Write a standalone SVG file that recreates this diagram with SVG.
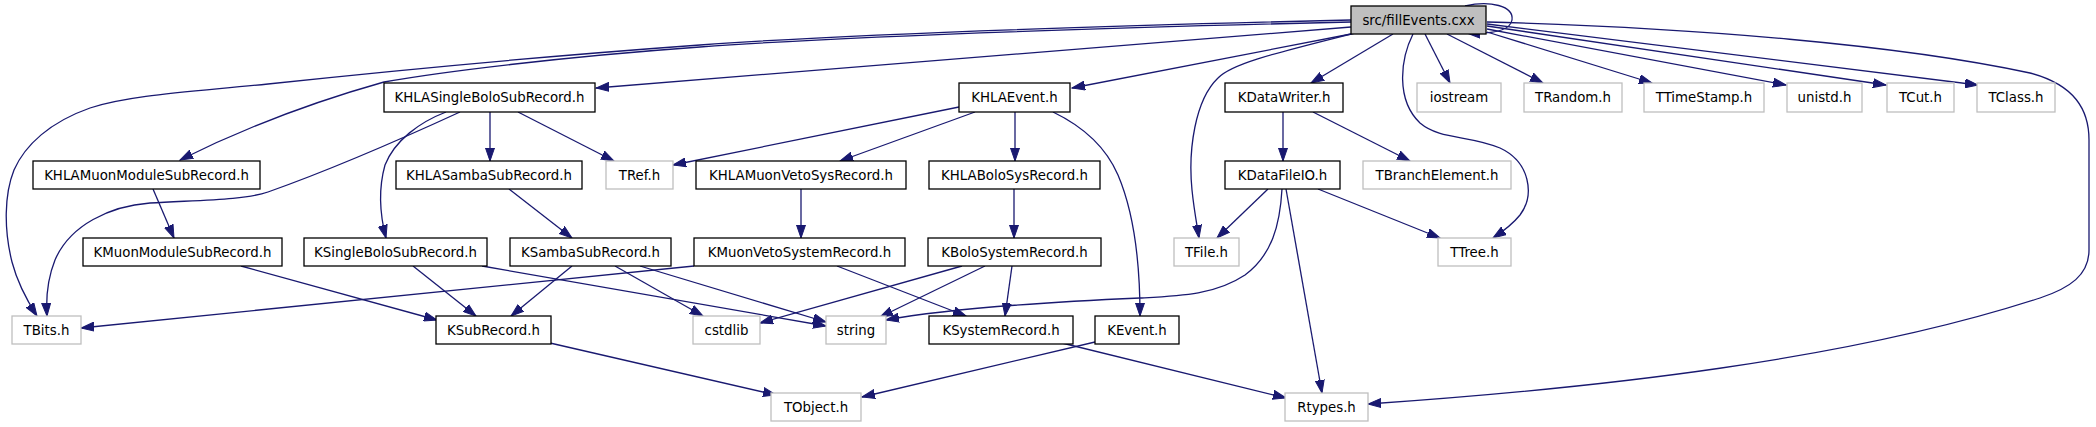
<svg xmlns="http://www.w3.org/2000/svg" width="2096" height="427" viewBox="0 0 2096 427">
<defs>
<marker id="ah" markerUnits="userSpaceOnUse" markerWidth="14" markerHeight="10" viewBox="0 0 14 10" refX="13" refY="5" orient="auto">
<path d="M0,0.5 L13,5 L0,9.5 z" fill="#191970" stroke="#191970" stroke-width="1"/>
</marker>
<style>
.n rect{fill:#ffffff;stroke:#000000;stroke-width:1.3}
.g rect{fill:#ffffff;stroke:#bfbfbf;stroke-width:1.3}
.s rect{fill:#bfbfbf;stroke:#000000;stroke-width:1.3}
text{font-family:"DejaVu Sans","Liberation Sans",sans-serif;font-size:13.33px;fill:#000000;text-anchor:middle}
#edges path{fill:none;stroke:#191970;stroke-width:1.3;marker-end:url(#ah)}
</style>
</defs>
<rect x="0" y="0" width="2096" height="427" fill="#ffffff"/>
<g id="edges">
<path d="M1351,27 L596,88"/>
<path d="M1351,22 C1100,28 850,36 700,47 C560,57 440,72 384,82 C320,100 250,125 180,160"/>
<path d="M1351,20 C1100,26 850,34 700,45 C520,58 380,72 268,84 C190,92 130,95 90,108 C50,122 25,145 14,170 C4,195 4,230 12,262 C18,285 28,302 37,316"/>
<path d="M1351,34 L1072,88"/>
<path d="M1355,33 C1280,52 1232,63 1218,78 C1195,100 1188,150 1192,190 C1194,210 1197,225 1199,238"/>
<path d="M1393,34 L1311,83"/>
<path d="M1425,34 L1450,83"/>
<path d="M1413,34 C1400,60 1396,100 1420,123 C1440,140 1470,135 1500,148 C1530,162 1535,195 1520,215 C1512,225 1502,232 1493,238"/>
<path d="M1447,34 L1543,83"/>
<path d="M1487,32 L1652,83"/>
<path d="M1487,29 L1786,85"/>
<path d="M1487,26 L1886,85"/>
<path d="M1487,24 L1978,85"/>
<path d="M1487,22 C1700,28 1900,45 2030,73 C2075,85 2089,110 2089,140 L2089,250 C2089,275 2070,288 2040,298 C1850,360 1600,388 1368,404"/>
<path d="M1465,6 C1490,0 1514,6 1512,20 C1510,32 1490,34 1467,33"/>
<path d="M490,112 L490,161"/>
<path d="M518,112 L614,161"/>
<path d="M460,112 C410,135 330,170 268,192 C245,200 200,200 150,203 C110,206 70,225 55,260 C47,280 46,300 47,316"/>
<path d="M446,112 C420,122 395,140 385,165 C378,190 380,215 386,238"/>
<path d="M153,189 L174,238"/>
<path d="M509,189 L572,238"/>
<path d="M959,107 L673,165"/>
<path d="M975,112 L840,161"/>
<path d="M1015,112 L1015,161"/>
<path d="M1053,112 C1080,125 1105,145 1118,175 C1135,215 1140,270 1140,316"/>
<path d="M801,189 L801,238"/>
<path d="M1014,189 L1014,238"/>
<path d="M1283,112 L1283,161"/>
<path d="M1313,112 L1410,161"/>
<path d="M1268,189 L1217,238"/>
<path d="M1318,189 L1440,238"/>
<path d="M1286,189 L1322,393"/>
<path d="M1282,189 C1280,225 1272,255 1245,275 C1215,295 1180,296 1140,298 C1050,302 950,308 886,320"/>
<path d="M241,266 L437,320"/>
<path d="M413,266 L476,316"/>
<path d="M482,266 L826,326"/>
<path d="M572,266 L511,316"/>
<path d="M615,266 L703,316"/>
<path d="M640,266 L826,322"/>
<path d="M694,266 L81,328"/>
<path d="M837,266 L966,316"/>
<path d="M962,266 L760,323"/>
<path d="M985,266 L880,317"/>
<path d="M1012,266 L1005,316"/>
<path d="M550,343 L776,395"/>
<path d="M1095,342 L862,397"/>
<path d="M1062,343 L1286,398"/>
</g>
<g id="n_src" class="s"><rect x="1351" y="6" width="135" height="28"/><text x="1418.5" y="24.5">src/fillEvents.cxx</text></g>
<g id="n_KHLASingleBoloSubRecord" class="n"><rect x="384" y="83" width="211" height="29"/><text x="489.5" y="102">KHLASingleBoloSubRecord.h</text></g>
<g id="n_KHLAEvent" class="n"><rect x="959" y="83" width="111" height="29"/><text x="1014.5" y="102">KHLAEvent.h</text></g>
<g id="n_KDataWriter" class="n"><rect x="1225" y="83" width="118" height="29"/><text x="1284" y="102">KDataWriter.h</text></g>
<g id="n_iostream" class="g"><rect x="1417" y="83" width="84" height="29"/><text x="1459" y="102">iostream</text></g>
<g id="n_TRandom" class="g"><rect x="1524" y="83" width="98" height="29"/><text x="1573" y="102">TRandom.h</text></g>
<g id="n_TTimeStamp" class="g"><rect x="1644" y="83" width="120" height="29"/><text x="1704" y="102">TTimeStamp.h</text></g>
<g id="n_unistd" class="g"><rect x="1787" y="83" width="75" height="29"/><text x="1824.5" y="102">unistd.h</text></g>
<g id="n_TCut" class="g"><rect x="1887" y="83" width="67" height="29"/><text x="1920.5" y="102">TCut.h</text></g>
<g id="n_TClass" class="g"><rect x="1977" y="83" width="78" height="29"/><text x="2016" y="102">TClass.h</text></g>
<g id="n_KHLAMuonModuleSubRecord" class="n"><rect x="33" y="161" width="227" height="28"/><text x="146.5" y="179.5">KHLAMuonModuleSubRecord.h</text></g>
<g id="n_KHLASambaSubRecord" class="n"><rect x="396" y="161" width="186" height="28"/><text x="489" y="179.5">KHLASambaSubRecord.h</text></g>
<g id="n_TRef" class="g"><rect x="606" y="161" width="67" height="28"/><text x="639.5" y="179.5">TRef.h</text></g>
<g id="n_KHLAMuonVetoSysRecord" class="n"><rect x="696" y="161" width="210" height="28"/><text x="801" y="179.5">KHLAMuonVetoSysRecord.h</text></g>
<g id="n_KHLABoloSysRecord" class="n"><rect x="929" y="161" width="171" height="28"/><text x="1014.5" y="179.5">KHLABoloSysRecord.h</text></g>
<g id="n_KDataFileIO" class="n"><rect x="1225" y="161" width="115" height="28"/><text x="1282.5" y="179.5">KDataFileIO.h</text></g>
<g id="n_TBranchElement" class="g"><rect x="1363" y="161" width="148" height="28"/><text x="1437" y="179.5">TBranchElement.h</text></g>
<g id="n_KMuonModuleSubRecord" class="n"><rect x="83" y="238" width="199" height="28"/><text x="182.5" y="256.5">KMuonModuleSubRecord.h</text></g>
<g id="n_KSingleBoloSubRecord" class="n"><rect x="304" y="238" width="183" height="28"/><text x="395.5" y="256.5">KSingleBoloSubRecord.h</text></g>
<g id="n_KSambaSubRecord" class="n"><rect x="510" y="238" width="161" height="28"/><text x="590.5" y="256.5">KSambaSubRecord.h</text></g>
<g id="n_KMuonVetoSystemRecord" class="n"><rect x="694" y="238" width="211" height="28"/><text x="799.5" y="256.5">KMuonVetoSystemRecord.h</text></g>
<g id="n_KBoloSystemRecord" class="n"><rect x="928" y="238" width="173" height="28"/><text x="1014.5" y="256.5">KBoloSystemRecord.h</text></g>
<g id="n_TFile" class="g"><rect x="1174" y="238" width="65" height="28"/><text x="1206.5" y="256.5">TFile.h</text></g>
<g id="n_TTree" class="g"><rect x="1438" y="238" width="73" height="28"/><text x="1474.5" y="256.5">TTree.h</text></g>
<g id="n_TBits" class="g"><rect x="12" y="316" width="69" height="28"/><text x="46.5" y="334.5">TBits.h</text></g>
<g id="n_KSubRecord" class="n"><rect x="436" y="316" width="115" height="28"/><text x="493.5" y="334.5">KSubRecord.h</text></g>
<g id="n_cstdlib" class="g"><rect x="693" y="316" width="67" height="28"/><text x="726.5" y="334.5">cstdlib</text></g>
<g id="n_string" class="g"><rect x="826" y="316" width="60" height="28"/><text x="856" y="334.5">string</text></g>
<g id="n_KSystemRecord" class="n"><rect x="929" y="316" width="144" height="28"/><text x="1001" y="334.5">KSystemRecord.h</text></g>
<g id="n_KEvent" class="n"><rect x="1095" y="316" width="84" height="28"/><text x="1137" y="334.5">KEvent.h</text></g>
<g id="n_TObject" class="g"><rect x="771" y="393" width="90" height="28"/><text x="816" y="411.5">TObject.h</text></g>
<g id="n_Rtypes" class="g"><rect x="1285" y="393" width="83" height="28"/><text x="1326.5" y="411.5">Rtypes.h</text></g>
</svg>
